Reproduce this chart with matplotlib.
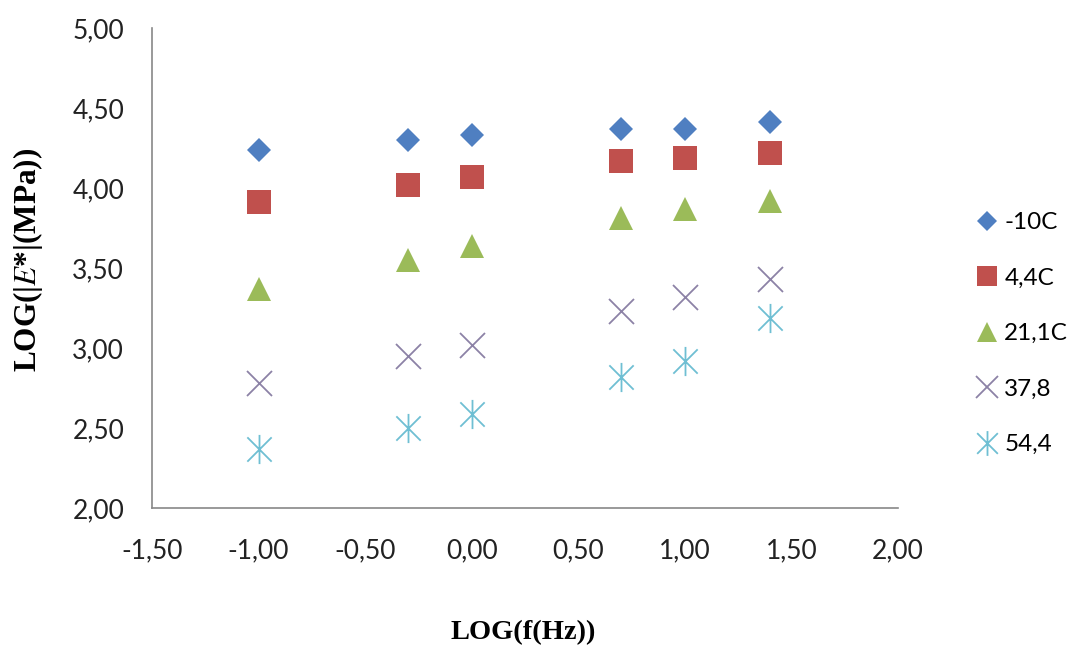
import numpy as np
import matplotlib
matplotlib.use("Agg")
import matplotlib.pyplot as plt
from matplotlib.path import Path
from matplotlib.ticker import FuncFormatter, MultipleLocator

plt.rcParams['mathtext.fontset'] = 'stix'

# log10 of test frequencies
log_f = [-1.00, -0.301, 0.00, 0.699, 1.00, 1.398]

series_names = ["-10C", "4,4C", "21,1C", "37,8", "54,4"]
e_m10 = [4.24, 4.30, 4.33, 4.37, 4.37, 4.41]
e_4_4 = [3.91, 4.02, 4.07, 4.17, 4.19, 4.22]
e_21_1 = [3.37, 3.55, 3.64, 3.81, 3.87, 3.92]
e_37_8 = [2.78, 2.95, 3.02, 3.23, 3.32, 3.43]
e_54_4 = [2.37, 2.50, 2.59, 2.82, 2.92, 3.19]

# excel-style asterisk: X plus a vertical bar
star = Path([(-1, -1), (1, 1), (-1, 1), (1, -1), (0, -1.2), (0, 1.2)],
            [Path.MOVETO, Path.LINETO, Path.MOVETO, Path.LINETO, Path.MOVETO, Path.LINETO])

styles = [
    dict(marker='D', markersize=12, color='#4F7FC1', markeredgewidth=0),
    dict(marker='s', markersize=17, color='#C0504D', markeredgewidth=0),
    dict(marker='^', markersize=17, color='#9BBB59', markeredgewidth=0),
    dict(marker='x', markersize=18, color='#8C82A6', markeredgewidth=1.3),
    dict(marker=star, markersize=21, color='#6FBFD3', markeredgewidth=1.3),
]

fig = plt.figure(figsize=(10.78, 6.45), dpi=100)
ax = fig.add_axes([0.141, 0.2124, 0.692, 0.7442])

for name, vals, st in zip(series_names, [e_m10, e_4_4, e_21_1, e_37_8, e_54_4], styles):
    ax.plot(log_f, vals, linestyle='none', label=name, **st)

ax.set_xlim(-1.5, 2.0)
ax.set_ylim(2.0, 5.0)
ax.xaxis.set_major_locator(MultipleLocator(0.5))
ax.yaxis.set_major_locator(MultipleLocator(0.5))
fmt = FuncFormatter(lambda v, p: f"{v:.2f}".replace('.', ','))
ax.xaxis.set_major_formatter(fmt)
ax.yaxis.set_major_formatter(fmt)
ax.tick_params(length=0, labelsize=19, colors='#222222')
ax.tick_params(axis='y', pad=20)
ax.tick_params(axis='x', pad=22)
for lab in ax.get_xticklabels() + ax.get_yticklabels():
    lab.set_family('Lato')
for s in ['top', 'right']:
    ax.spines[s].set_visible(False)
for s in ['left', 'bottom']:
    ax.spines[s].set_color('#888888')
    ax.spines[s].set_linewidth(1.2)

fig.text(523 / 1078, 12 / 645, "LOG(f(Hz))", family='Liberation Serif', fontweight='bold',
         fontsize=20.5, ha='center', va='center')
fig.text(28 / 1078, 385 / 645, r"LOG(|$E$*|(MPa))", family='Liberation Serif', fontweight='bold',
         fontsize=22.5, rotation=90, ha='center', va='center')

leg = fig.legend(loc='upper left', bbox_to_anchor=(977.5 / 1078, 0.671), frameon=False,
                 prop={'family': 'Lato', 'size': 17.5}, labelspacing=1.42,
                 borderpad=0, borderaxespad=0,
                 handlelength=0.8, handletextpad=0.3, markerscale=0.85)

fig.savefig("out.png", dpi=100)
